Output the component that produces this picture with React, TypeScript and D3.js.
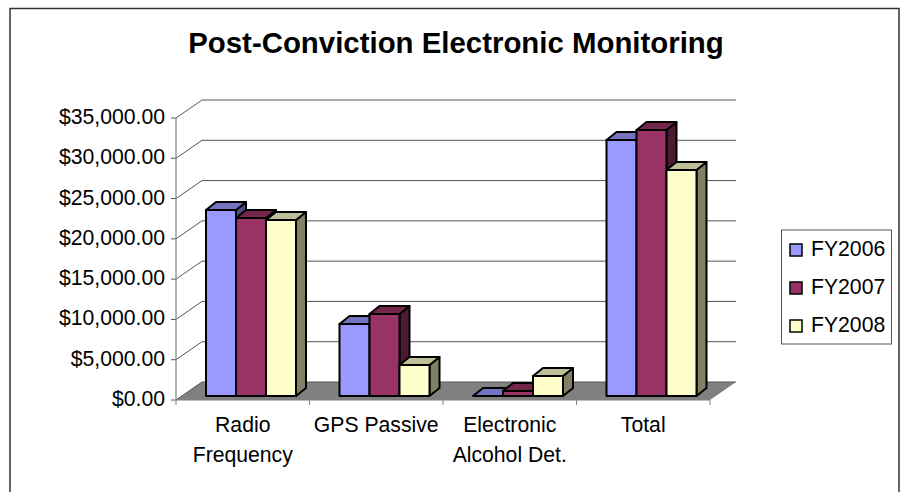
import React from "react";
import * as d3 from "d3";

const categories = [["Radio", "Frequency"], ["GPS Passive"], ["Electronic", "Alcohol Det."], ["Total"]];
const seriesNames = ["FY2006", "FY2007", "FY2008"];
const fy2006 = [23085, 8940, 0, 31770];
const fy2007 = [22090, 10180, 620, 33010];
const fy2008 = [21840, 3850, 2480, 28050];
const seriesValues = [fy2006, fy2007, fy2008];
const yTicks = [0, 5000, 10000, 15000, 20000, 25000, 30000, 35000];
const faces = [
  { front: "#9999FF", top: "#7373BF", side: "#4D4D80" },
  { front: "#993366", top: "#732649", side: "#4D1A33" },
  { front: "#FFFFCC", top: "#BFBF99", side: "#808066" },
];

const font = "'Liberation Sans', Arial, sans-serif";
const y = d3.scaleLinear().domain([0, 35000]).range([400, 118]);
const yBar = d3.scaleLinear().domain([0, 35000]).range([396, 114]);
const x = d3.scaleBand<number>().domain([0, 1, 2, 3]).range([176, 710]);
const dx = 26, dy = -18;
const barDx = 10, barDy = -8;
const barOffset = (i: number) => x(i)! + 30;
const barW = 30;
const fmt = (v: number) => "$" + d3.format(",.2f")(v);

function Bar({ x0, v, s }: { x0: number; v: number; s: number }) {
  const yt = yBar(v), yb = yBar(0), w = barW;
  const f = faces[s];
  const common = { stroke: "#000", strokeWidth: 2, strokeLinejoin: "round" as const };
  return (
    <g>
      <polygon points={`${x0 + w},${yb} ${x0 + w + barDx},${yb + barDy} ${x0 + w + barDx},${yt + barDy} ${x0 + w},${yt}`} fill={f.side} {...common} />
      <polygon points={`${x0},${yt} ${x0 + barDx},${yt + barDy} ${x0 + w + barDx},${yt + barDy} ${x0 + w},${yt}`} fill={f.top} {...common} />
      {v > 0 && <rect x={x0} y={yt} width={w} height={yb - yt} fill={f.front} {...common} />}
    </g>
  );
}

export default function App() {
  const cats = d3.range(categories.length);
  return (
    <svg width={905} height={492} style={{ position: "absolute", left: 0, top: 0, background: "#fff" }} fontFamily={font}>
      <rect x={10} y={8.5} width={889} height={490} fill="#fff" stroke="#333" strokeWidth={1.5} />
      <text x={456} y={53} textAnchor="middle" fontSize={29.4} fontWeight="bold" fill="#000">Post-Conviction Electronic Monitoring</text>

      <polygon points={`${x.range()[0]},${y(0)} ${x.range()[0] + dx},${y(0) + dy} ${x.range()[1] + dx},${y(0) + dy} ${x.range()[1]},${y(0)}`} fill="#808080" />
      {yTicks.map((t) => (
        <g key={t} stroke="#555" fill="none">
          <polyline points={`${x.range()[0]},${y(t)} ${x.range()[0] + dx},${y(t) + dy} ${x.range()[1] + dx},${y(t) + dy}`} strokeWidth={1} />
          <line x1={x.range()[0] - 5} x2={x.range()[0]} y1={y(t)} y2={y(t)} />
        </g>
      ))}
      <line x1={176} x2={176} y1={y(35000)} y2={y(0)} stroke="#808080" strokeWidth={1.2} />
      <line x1={176} x2={710} y1={y(0)} y2={y(0)} stroke="#808080" strokeWidth={1.2} />
      {d3.range(5).map((i) => {
        const tx = 176 + (i * x.bandwidth());
        return <line key={i} x1={tx} x2={tx} y1={y(0)} y2={y(0) + 5} stroke="#808080" />;
      })}

      {yTicks.map((t) => (
        <text key={t} x={165} y={y(t) + 6} textAnchor="end" fontSize={21.2} fill="#000">{fmt(t)}</text>
      ))}

      {cats.map((c) =>
        seriesNames.map((_, s) => (
          <Bar key={`${c}-${s}`} x0={barOffset(c) + s * barW} v={seriesValues[s][c]} s={s} />
        ))
      )}

      {categories.map((lines, c) => (
        <text key={c} textAnchor="middle" fontSize={21.2} fill="#000">
          {lines.map((l, i) => (
            <tspan key={i} x={x(c)! + x.bandwidth() / 2} y={431.5 + i * 30}>{l}</tspan>
          ))}
        </text>
      ))}

      <rect x={781.5} y={230} width={110} height={114} fill="#fff" stroke="#555" strokeWidth={1} />
      {seriesNames.map((n, s) => (
        <g key={n}>
          <rect x={790} y={244 + s * 38} width={12} height={12} fill={faces[s].front} stroke="#000" strokeWidth={1.5} />
          <text x={811} y={256 + s * 38} fontSize={21.2} fill="#000">{n}</text>
        </g>
      ))}
    </svg>
  );
}
